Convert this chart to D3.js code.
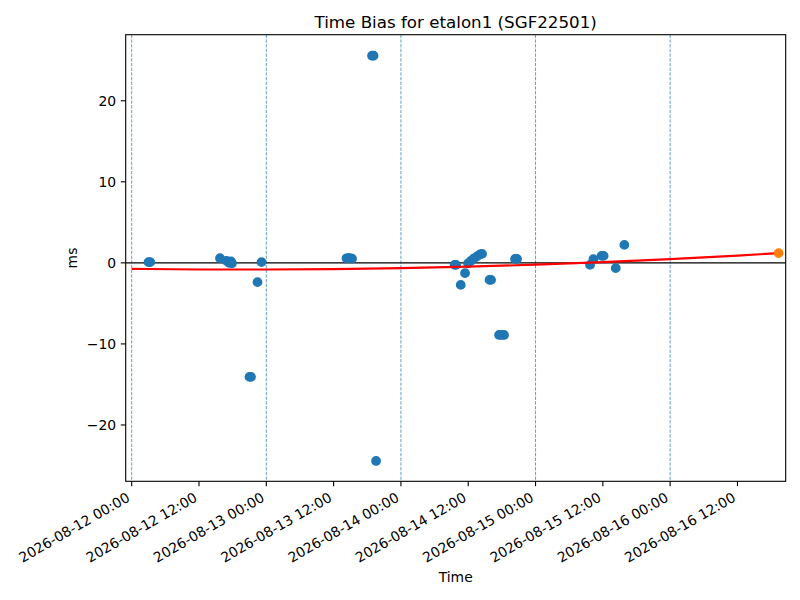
<!DOCTYPE html>
<html lang="en">
<head>
<meta charset="UTF-8">
<title>Time Bias for etalon1</title>
<script src="https://cdn.jsdelivr.net/npm/d3@7.9.0/dist/d3.min.js"></script>
<style>
    body { margin: 0; background: #fff; }
    svg { display: block; font-family: "DejaVu Sans", sans-serif; }
    .tick-label { font-size: 13.9px; fill: #000; }
</style>
</head>
<body>
<svg id="chart" width="800" height="600"></svg>
<script>
// measurement times (local) and time bias in ms
const obsTimes = [
    "2026-08-12 03:00", "2026-08-12 03:18", "2026-08-12 15:45", "2026-08-12 16:54",
    "2026-08-12 17:21", "2026-08-12 17:42", "2026-08-12 17:53", "2026-08-12 21:00",
    "2026-08-12 21:16", "2026-08-12 22:26", "2026-08-12 23:09",
    "2026-08-13 14:18", "2026-08-13 14:45", "2026-08-13 15:17", "2026-08-13 18:51",
    "2026-08-13 19:07", "2026-08-13 19:34",
    "2026-08-14 09:34", "2026-08-14 09:50", "2026-08-14 10:40", "2026-08-14 11:26",
    "2026-08-14 11:58", "2026-08-14 12:30", "2026-08-14 13:02", "2026-08-14 13:34",
    "2026-08-14 14:06", "2026-08-14 14:28", "2026-08-14 15:48", "2026-08-14 16:04",
    "2026-08-14 17:30", "2026-08-14 17:56", "2026-08-14 18:23", "2026-08-14 20:21",
    "2026-08-14 20:42",
    "2026-08-15 09:43", "2026-08-15 10:19", "2026-08-15 11:46", "2026-08-15 12:08",
    "2026-08-15 14:18", "2026-08-15 15:50"
];
const obsBias = [
    0.09, 0.09, 0.58, 0.25,
    0.0, 0.18, -0.06, -14.07,
    -14.07, -2.38, 0.09,
    0.56, 0.62, 0.52, 25.56,
    25.56, -24.44,
    -0.25, -0.25, -2.72, -1.27,
    -0.06, 0.25, 0.56, 0.80,
    1.05, 1.11, -2.10, -2.10,
    -8.89, -8.89, -8.89, 0.49,
    0.49,
    -0.25, 0.46, 0.86, 0.86,
    -0.65, 2.22
];

// fitted trend
const fitTimes = [
    "2026-08-12 00:00", "2026-08-12 12:00", "2026-08-13 00:00", "2026-08-13 12:00",
    "2026-08-14 00:00", "2026-08-14 12:00", "2026-08-15 00:00", "2026-08-15 12:00",
    "2026-08-16 00:00", "2026-08-16 12:00", "2026-08-16 19:20"
];
const fitBias = [-0.74, -0.81, -0.82, -0.77, -0.65, -0.47, -0.22, 0.09, 0.46, 0.89, 1.20];

// predicted point at the end of the fit
const predTime = ["2026-08-16 19:20"];
const predBias = [1.20];

// day boundaries (dashed lines)
const dayLines = ["2026-08-12 00:00", "2026-08-13 00:00", "2026-08-14 00:00",
                  "2026-08-15 00:00", "2026-08-16 00:00"];

const yTicks = [-20, -10, 0, 10, 20];
const xStart = "2026-08-11 22:56";
const xEnd = "2026-08-16 20:36";
const yRange = [-26.95, 28.15];

const parse = d3.timeParse("%Y-%m-%d %H:%M");
const fmt = d3.timeFormat("%Y-%m-%d %H:%M");

let axLeft = 125.7, axRight = 785.7, axTop = 34.7, axBottom = 481.3;
let svg = d3.select("#chart");

let x = d3.scaleTime().domain([parse(xStart), parse(xEnd)]).range([axLeft, axRight]);
let y = d3.scaleLinear().domain(yRange).range([axBottom, axTop]);

svg.append("rect").attr("width", 800).attr("height", 600).attr("fill", "#fff");

// clip to the axes box
svg.append("clipPath").attr("id", "clip")
    .append("rect").attr("x", axLeft).attr("y", axTop)
    .attr("width", axRight - axLeft).attr("height", axBottom - axTop);
let plot = svg.append("g").attr("clip-path", "url(#clip)");

// day lines
plot.selectAll("line.day").data(dayLines).enter().append("line")
    .attr("class", "day")
    .attr("x1", d => x(parse(d))).attr("x2", d => x(parse(d)))
    .attr("y1", axTop).attr("y2", axBottom)
    .attr("stroke", "#1f77b4").attr("stroke-width", 0.7)
    .attr("stroke-dasharray", "3.3,1.4");

// zero line
plot.append("line")
    .attr("x1", axLeft).attr("x2", axRight)
    .attr("y1", y(0)).attr("y2", y(0))
    .attr("stroke", "#000").attr("stroke-width", 1.1);

// observations
let obs = obsTimes.map((t, i) => ({ t: parse(t), v: obsBias[i] }));
plot.selectAll("circle.obs").data(obs).enter().append("circle")
    .attr("class", "obs")
    .attr("cx", d => x(d.t)).attr("cy", d => y(d.v))
    .attr("r", 4.2)
    .attr("fill", "#1f77b4").attr("stroke", "#1f77b4").attr("stroke-width", 1.4);

// fit curve
let fit = fitTimes.map((t, i) => ({ t: parse(t), v: fitBias[i] }));
let line = d3.line().x(d => x(d.t)).y(d => y(d.v)).curve(d3.curveMonotoneX);
plot.append("path").datum(fit)
    .attr("d", line)
    .attr("fill", "none").attr("stroke", "#ff0000").attr("stroke-width", 2.1);

// prediction point
let pred = predTime.map((t, i) => ({ t: parse(t), v: predBias[i] }));
plot.selectAll("circle.pred").data(pred).enter().append("circle")
    .attr("class", "pred")
    .attr("cx", d => x(d.t)).attr("cy", d => y(d.v))
    .attr("r", 4.2)
    .attr("fill", "#ff7f0e").attr("stroke", "#ff7f0e").attr("stroke-width", 1.4);

// axes box
svg.append("rect")
    .attr("x", axLeft).attr("y", axTop)
    .attr("width", axRight - axLeft).attr("height", axBottom - axTop)
    .attr("fill", "none").attr("stroke", "#000").attr("stroke-width", 1.1);

// y axis ticks
let yAxis = svg.append("g");
yAxis.selectAll("line").data(yTicks).enter().append("line")
    .attr("x1", axLeft - 4.9).attr("x2", axLeft)
    .attr("y1", d => y(d)).attr("y2", d => y(d))
    .attr("stroke", "#000").attr("stroke-width", 1.1);
yAxis.selectAll("text").data(yTicks).enter().append("text")
    .attr("class", "tick-label")
    .attr("x", axLeft - 9.5).attr("y", d => y(d))
    .attr("text-anchor", "end").attr("dominant-baseline", "central")
    .text(d => d < 0 ? "\u2212" + Math.abs(d) : d);

// x axis ticks every 12 hours
let xTicks = x.ticks(d3.timeHour.every(12));
let xAxis = svg.append("g");
xAxis.selectAll("line").data(xTicks).enter().append("line")
    .attr("x1", d => x(d)).attr("x2", d => x(d))
    .attr("y1", axBottom).attr("y2", axBottom + 4.9)
    .attr("stroke", "#000").attr("stroke-width", 1.1);
xAxis.selectAll("text").data(xTicks).enter().append("text")
    .attr("class", "tick-label")
    .attr("text-anchor", "end")
    .attr("dominant-baseline", "hanging")
    .attr("transform", d => `translate(${x(d) - 6},${axBottom + 10}) rotate(-30)`)
    .text(d => fmt(d));

// labels
svg.append("text")
    .attr("x", (axLeft + axRight) / 2).attr("y", 27.5)
    .attr("text-anchor", "middle")
    .attr("font-size", "16.7px")
    .text("Time Bias for etalon1 (SGF22501)");

svg.append("text")
    .attr("x", (axLeft + axRight) / 2).attr("y", 582)
    .attr("text-anchor", "middle")
    .attr("font-size", "13.9px")
    .text("Time");

svg.append("text")
    .attr("transform", `translate(77,${(axTop + axBottom) / 2}) rotate(-90)`)
    .attr("text-anchor", "middle")
    .attr("font-size", "13.9px")
    .text("ms");
</script>
</body>
</html>
